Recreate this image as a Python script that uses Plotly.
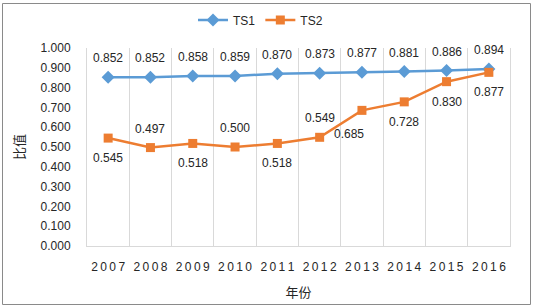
import plotly.graph_objects as go

years = ["2007", "2008", "2009", "2010", "2011", "2012", "2013", "2014", "2015", "2016"]
ts1 = [0.852, 0.852, 0.858, 0.859, 0.870, 0.873, 0.877, 0.881, 0.886, 0.894]
ts2 = [0.545, 0.497, 0.518, 0.500, 0.518, 0.549, 0.685, 0.728, 0.830, 0.877]
# label placement for TS2: +1 above, -1 below
ts2_label_side = [-1, 1, -1, 1, -1, 1, -1, -1, -1, -1]
y_ticks = [i / 10 for i in range(11)]

W, H = 533, 307
L, R, T, B = 87, 23, 48, 61

xi = list(range(len(years)))
tick_text = ["\u2009".join(y) for y in years]

BLUE = "#5B9BD5"
ORANGE = "#ED7D31"
TXT = "#262626"
FONT = "Liberation Sans"

fig = go.Figure()
fig.add_trace(go.Scatter(x=xi, y=ts1, name="TS1", mode="lines+markers",
                         line=dict(color=BLUE, width=2.5),
                         marker=dict(symbol="diamond", size=10, color=BLUE)))
fig.add_trace(go.Scatter(x=xi, y=ts2, name="TS2", mode="lines+markers",
                         line=dict(color=ORANGE, width=2.5),
                         marker=dict(symbol="square", size=9, color=ORANGE)))

annotations = []
for x, v in zip(xi, ts1):
    annotations.append(dict(x=x, y=v, xref="x", yref="y", text=f"{v:.3f}", showarrow=False, yshift=19,
                            font=dict(size=12, color=TXT, family=FONT)))
for x, yr, v, s in zip(xi, years, ts2, ts2_label_side):
    xs = -13 if yr == "2013" else 0
    ys = 19 if s > 0 else (-24 if yr == "2013" else -20)
    annotations.append(dict(x=x, y=v, xref="x", yref="y", text=f"{v:.3f}", showarrow=False,
                            yshift=ys, xshift=xs,
                            font=dict(size=12, color=TXT, family=FONT)))

pw = W - L - R
ph = H - T - B
bx0, bx1 = (2.5 - L) / pw, (530.5 - L) / pw
by0, by1 = (T + ph - 304.5) / ph, (T + ph - 3.5) / ph
border = dict(color="#8a8a8a", width=1)
shapes = [
    dict(type="line", xref="paper", yref="paper", x0=bx0, x1=bx1, y0=by0, y1=by0, line=border),
    dict(type="line", xref="paper", yref="paper", x0=bx0, x1=bx1, y0=by1, y1=by1, line=border),
    dict(type="line", xref="paper", yref="paper", x0=bx0, x1=bx0, y0=by0, y1=by1, line=border),
    dict(type="line", xref="paper", yref="paper", x0=bx1, x1=bx1, y0=by0, y1=by1, line=border),
]

fig.update_layout(
    width=W, height=H,
    margin=dict(l=L, r=R, t=T, b=B, autoexpand=False),
    paper_bgcolor="white", plot_bgcolor="white",
    font=dict(family=FONT, size=12, color=TXT),
    showlegend=True,
    legend=dict(orientation="h", x=(193 - L) / pw, y=(T + ph - 20) / ph, xanchor="left", yanchor="middle",
                font=dict(size=12, color=TXT, family=FONT),
                bgcolor="rgba(0,0,0,0)"),
    annotations=annotations,
    shapes=shapes,
    xaxis=dict(showgrid=False, tickmode="array", tickvals=xi, ticktext=tick_text, tickangle=0,
               ticks="outside", ticklen=10, tickcolor="rgba(0,0,0,0)",
               minor=dict(tick0=-0.5, dtick=1, showgrid=True, gridcolor="#d9d9d9", gridwidth=1, ticks=""),
               showline=True, linecolor="#d9d9d9", linewidth=1, zeroline=False,
               tickfont=dict(size=12, color=TXT, family=FONT),
               range=[-0.5, 9.5], automargin=False,
               title=dict(text="年份", font=dict(size=13, family="Noto Sans CJK SC", color=TXT), standoff=14)),
    yaxis=dict(range=[0, 1.0], tickmode="array", tickvals=y_ticks, tickformat=".3f", showgrid=False,
               zeroline=False, showline=True, mirror=True, linecolor="#d9d9d9",
               ticks="outside", ticklen=13, tickcolor="rgba(0,0,0,0)",
               tickfont=dict(size=12, color=TXT, family=FONT), automargin=False,
               title=dict(text="比值", font=dict(size=13, family="Noto Sans CJK SC", color=TXT), standoff=13)),
)

fig.write_html("out.html", config={"displayModeBar": False},
               post_script="document.body.style.margin='0';")
